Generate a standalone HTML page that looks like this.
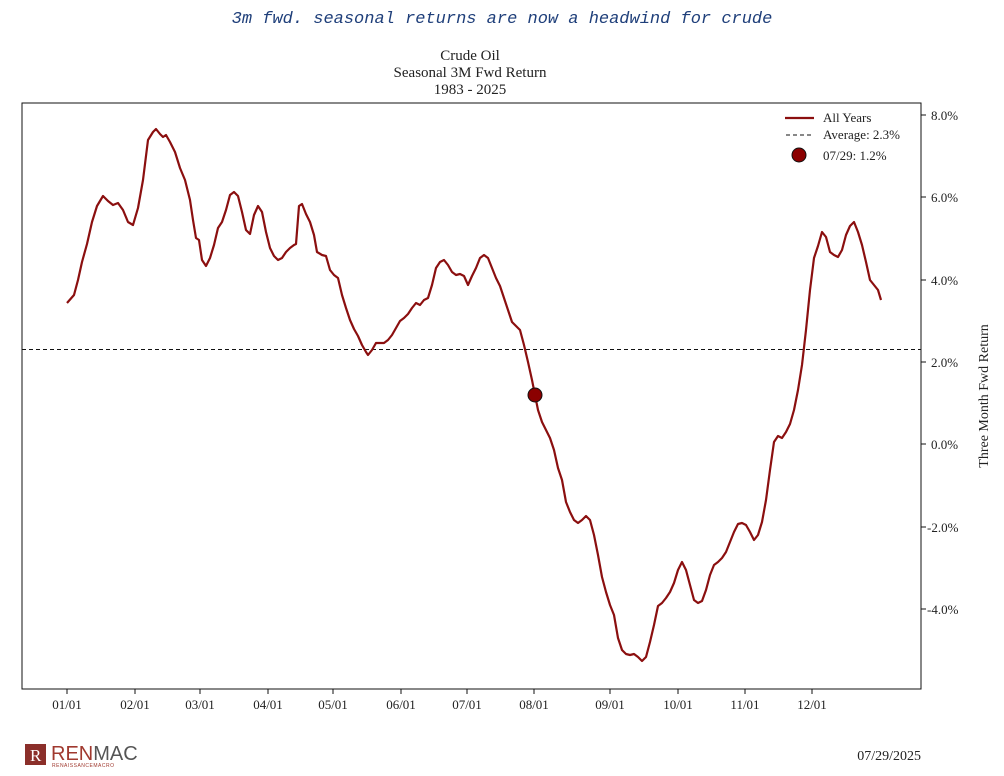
<!DOCTYPE html>
<html><head><meta charset="utf-8"><style>
body{margin:0;background:#fff;width:1004px;height:776px;overflow:hidden}
svg{display:block}
</style></head><body>
<svg width="1004" height="776" xmlns="http://www.w3.org/2000/svg" font-family="Liberation Serif, serif">
<text x="502" y="23" text-anchor="middle" font-family="Liberation Mono, monospace" font-style="italic" font-size="17" fill="#1f3f7a">3m fwd. seasonal returns are now a headwind for crude</text>
<text x="470" y="60" text-anchor="middle" font-size="15" fill="#222">Crude Oil</text>
<text x="470" y="77" text-anchor="middle" font-size="15" fill="#222">Seasonal 3M Fwd Return</text>
<text x="470" y="94" text-anchor="middle" font-size="15" fill="#222">1983 - 2025</text>
<rect x="22" y="103" width="899" height="586" fill="none" stroke="#111" stroke-width="1"/>
<line x1="22" y1="349.5" x2="921" y2="349.5" stroke="#111" stroke-dasharray="4,3" stroke-width="1"/>
<g font-size="13" fill="#222">
<g stroke="#111"><line x1="921" y1="115" x2="926" y2="115"/><line x1="921" y1="197" x2="926" y2="197"/><line x1="921" y1="280" x2="926" y2="280"/><line x1="921" y1="362" x2="926" y2="362"/><line x1="921" y1="444" x2="926" y2="444"/><line x1="921" y1="527" x2="926" y2="527"/><line x1="921" y1="609" x2="926" y2="609"/></g>
<text x="931" y="120">8.0%</text><text x="931" y="202">6.0%</text><text x="931" y="285">4.0%</text><text x="931" y="367">2.0%</text><text x="931" y="449">0.0%</text><text x="927" y="532">-2.0%</text><text x="927" y="614">-4.0%</text>
<text transform="translate(988,396) rotate(-90)" text-anchor="middle" font-size="14">Three Month Fwd Return</text>
<g stroke="#111"><line x1="67" y1="689" x2="67" y2="694"/><line x1="135" y1="689" x2="135" y2="694"/><line x1="200" y1="689" x2="200" y2="694"/><line x1="268" y1="689" x2="268" y2="694"/><line x1="333" y1="689" x2="333" y2="694"/><line x1="401" y1="689" x2="401" y2="694"/><line x1="467" y1="689" x2="467" y2="694"/><line x1="534" y1="689" x2="534" y2="694"/><line x1="610" y1="689" x2="610" y2="694"/><line x1="678" y1="689" x2="678" y2="694"/><line x1="745" y1="689" x2="745" y2="694"/><line x1="812" y1="689" x2="812" y2="694"/></g>
<g text-anchor="middle"><text x="67" y="709">01/01</text><text x="135" y="709">02/01</text><text x="200" y="709">03/01</text><text x="268" y="709">04/01</text><text x="333" y="709">05/01</text><text x="401" y="709">06/01</text><text x="467" y="709">07/01</text><text x="534" y="709">08/01</text><text x="610" y="709">09/01</text><text x="678" y="709">10/01</text><text x="745" y="709">11/01</text><text x="812" y="709">12/01</text></g>
</g>
<polyline fill="none" stroke="#8b0f0f" stroke-width="2.2" stroke-linejoin="round" points="67,303 74,295 78,280 82,262 87,244 92,222 97,206 103,196 108,201 113,205 118,203 123,210 128,222 133,225 138,208 143,180 148,140 153,132 156,129 160,134 163,137 166,135 170,142 175,152 180,168 185,180 190,200 193,220 196,238 199,240 202,260 206,266 210,258 214,245 218,228 222,222 226,210 230,195 234,192 238,196 242,212 246,230 250,234 254,215 258,206 262,212 266,232 270,248 274,256 278,260 282,258 286,252 290,248 294,245 296,244 299,206 302,204 306,214 310,222 314,235 317,252 322,255 326,256 330,270 334,275 338,278 342,295 346,308 350,320 354,329 358,336 362,345 366,352 368,355 372,350 376,343 380,343 384,343 388,340 392,335 396,328 400,321 404,318 408,314 412,308 416,303 420,305 424,300 428,298 432,285 436,268 440,262 444,260 448,265 452,272 456,275 460,274 464,276 468,285 472,276 476,268 480,258 484,255 488,258 492,268 496,278 500,286 504,298 508,310 512,322 516,326 520,330 524,345 528,362 532,380 535,395 538,410 542,422 546,430 550,438 554,450 558,468 562,480 566,502 570,512 574,520 578,523 582,520 586,516 590,520 594,535 598,555 602,577 606,592 610,605 614,615 618,638 622,650 626,654 630,655 634,654 638,657 642,661 646,657 650,642 654,625 658,606 662,603 666,598 670,592 674,583 678,570 682,562 686,570 690,585 694,600 698,603 702,601 706,590 710,575 714,565 718,562 722,558 726,552 730,542 734,532 738,524 742,523 746,525 750,532 754,540 758,535 762,522 766,500 770,470 774,442 778,436 782,438 786,432 790,424 794,410 798,390 802,365 806,330 810,290 814,258 818,246 822,232 826,237 830,252 834,255 838,257 842,250 846,235 850,226 854,222 858,232 862,245 866,262 870,280 874,285 878,290 881,300"/>
<circle cx="535" cy="395" r="7" fill="#8b0000" stroke="#111" stroke-width="1"/>
<line x1="785" y1="118" x2="814" y2="118" stroke="#8b0f0f" stroke-width="2.2"/>
<line x1="786" y1="135" x2="813" y2="135" stroke="#111" stroke-dasharray="4,3"/>
<circle cx="799" cy="155" r="7" fill="#8b0000" stroke="#111"/>
<g font-size="13" fill="#222"><text x="823" y="122">All Years</text><text x="823" y="139">Average: 2.3%</text><text x="823" y="160">07/29: 1.2%</text></g>
<rect x="25" y="744" width="21" height="21" fill="#8b2f2a"/>
<text x="30" y="761" font-size="17" fill="#fff" font-family="Liberation Serif, serif">R</text>
<text x="51" y="760" font-family="Liberation Sans, sans-serif" font-size="20" fill="#a0392f">REN<tspan fill="#555">MAC</tspan></text>
<text x="52" y="767" font-family="Liberation Sans, sans-serif" font-size="5" fill="#a0392f" letter-spacing="0.5">RENAISSANCEMACRO</text>
<text x="921" y="760" text-anchor="end" font-size="14" fill="#222">07/29/2025</text>
</svg>
</body></html>
